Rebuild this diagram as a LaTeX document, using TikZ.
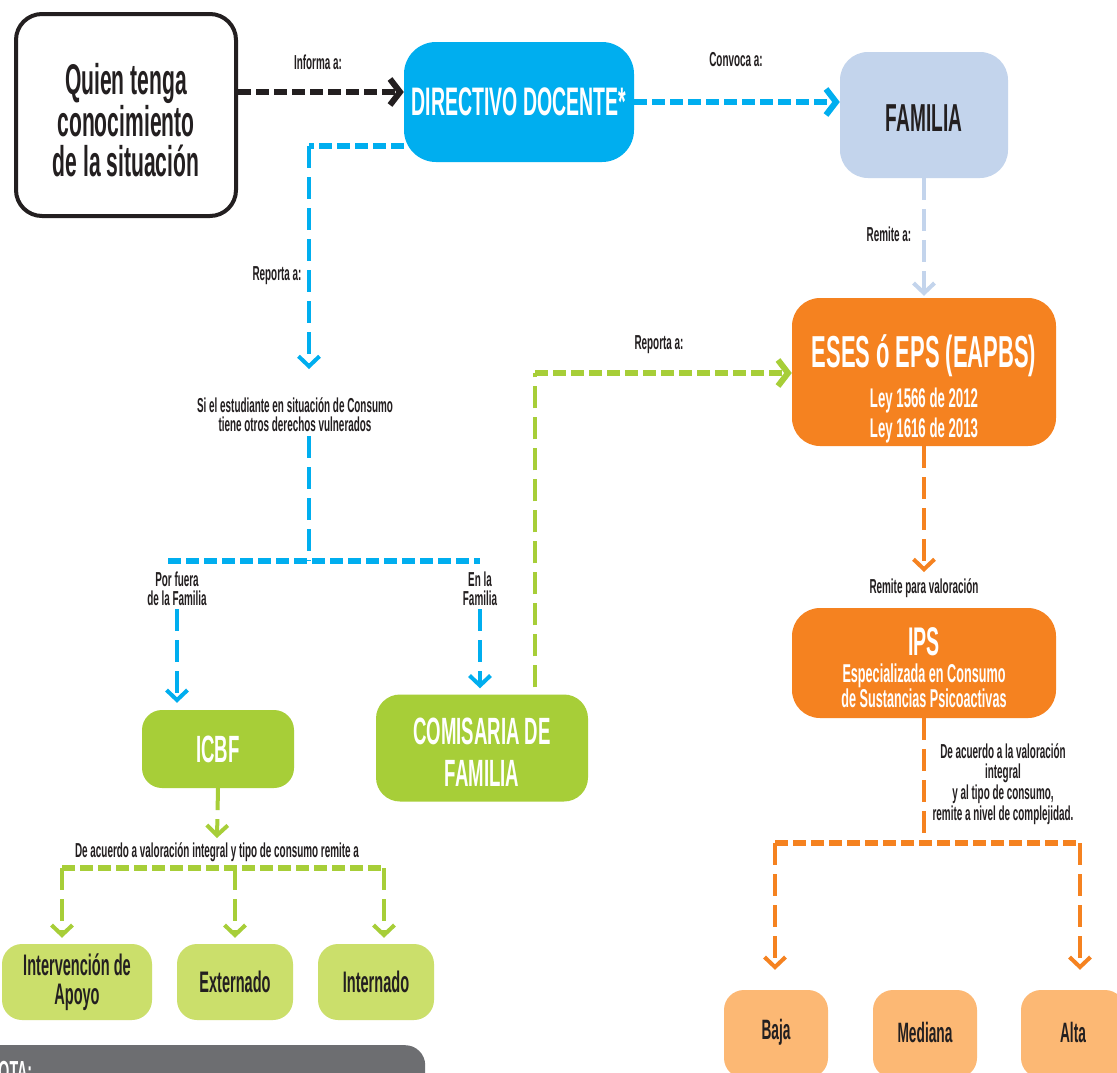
\documentclass[tikz,border=0pt]{standalone}
\usepackage{fontspec}
\setmainfont{Liberation Sans}[FakeStretch=0.49]
\usetikzlibrary{arrows.meta,calc}
\definecolor{cblue}{HTML}{00AEEF}
\definecolor{clblue}{HTML}{C3D4EC}
\definecolor{corange}{HTML}{F58220}
\definecolor{clorange}{HTML}{FCB874}
\definecolor{cgreen}{HTML}{A7CE38}
\definecolor{clgreen}{HTML}{CBDF6B}
\definecolor{cgray}{HTML}{6D6E71}
\definecolor{ctext}{HTML}{231F20}
\tikzset{
  fs/.style n args={2}{font=\fontsize{#1}{#2}\selectfont\bfseries},
  bx/.style={inner sep=0pt, align=center},
  lbl/.style={text=ctext, fs={20.2}{19}, align=center, inner sep=0pt},
  hd/.style={line width=6pt, dash pattern=on 13pt off 5pt},
  vd/.style={line width=4pt, dash pattern=on 22pt off 9pt},
  htip/.style={-{Straight Barb[length=10pt,width=26pt]}},
  vtip/.style={-{Straight Barb[length=10pt,width=21pt]}},
}
\begin{document}
\begin{tikzpicture}[x=1pt,y=-1pt]
\useasboundingbox (0,0) rectangle (1117,1072);
\clip (0,0) rectangle (1117,1072);
\fill[white] (0,0) rectangle (1117,1072);

% boxes
\node[bx, draw=ctext, line width=4pt, fill=white, rounded corners=26pt, minimum width=220pt, minimum height=202pt] (quien) at (126,115) {};
\node[bx, text=ctext, fs={43}{40}] (quienT) at (126,120) {Quien tenga\\conocimiento\\de la situación};
\node[bx, fill=cblue, rounded corners=32pt, minimum width=230pt, minimum height=120pt, text=white, fs={39.8}{40}] (directivo) at (519,102) {DIRECTIVO DOCENTE*};
\node[bx, fill=clblue, rounded corners=28pt, minimum width=168pt, minimum height=126pt] (familia) at (924,115) {};
\node[bx, text=ctext, fs={39}{39}] (familiaT) at (924,118) {FAMILIA};
\node[bx, fill=corange, rounded corners=28pt, minimum width=264pt, minimum height=148pt] (eses) at (924,372) {};
\node[bx, text=white, fs={44.8}{44}] (esesT) at (924,356) {ESES ó EPS (EAPBS)};
\node[bx, text=white, fs={27}{30}] (esesL) at (924,416) {Ley 1566 de 2012\\Ley 1616 de 2013};
\node[bx, fill=corange, rounded corners=28pt, minimum width=264pt, minimum height=110pt] (ips) at (924,663) {};
\node[bx, text=white, fs={40}{40}] (ipsT) at (924,642) {IPS};
\node[bx, text=white, fs={25.8}{21}] (ipsL) at (924,686) {Especializada en Consumo\\de Sustancias Psicoactivas};
\node[bx, fill=cgreen, rounded corners=20pt, minimum width=152pt, minimum height=78pt, text=white, fs={38}{38}] (icbf) at (218,749) {ICBF};
\node[bx, fill=cgreen, rounded corners=24pt, minimum width=212pt, minimum height=107pt] (comisaria) at (482,748) {};
\node[bx, text=white, fs={38}{42}] (comisariaT) at (482,752) {COMISARIA DE\\FAMILIA};
\node[bx, fill=clgreen, rounded corners=20pt, minimum width=150pt, minimum height=76pt, text=ctext, fs={29.7}{29}] (interv) at (77,982) {Intervención de\\Apoyo};
\node[bx, fill=clgreen, rounded corners=20pt, minimum width=116pt, minimum height=76pt, text=ctext, fs={29.7}{29}] (extern) at (235,982) {Externado};
\node[bx, fill=clgreen, rounded corners=20pt, minimum width=116pt, minimum height=76pt, text=ctext, fs={29.7}{29}] (intern) at (376,982) {Internado};
\node[bx, fill=clorange, rounded corners=20pt, minimum width=104pt, minimum height=88pt] (baja) at (776,1034) {};
\node[bx, fill=clorange, rounded corners=20pt, minimum width=104pt, minimum height=88pt] (mediana) at (925,1034) {};
\node[bx, fill=clorange, rounded corners=20pt, minimum width=104pt, minimum height=88pt] (alta) at (1073,1034) {};
\node[bx, text=ctext, fs={28}{28}] (bajaT) at (776,1032) {Baja};
\node[bx, text=ctext, fs={28}{28}] (medianaT) at (925,1032) {Mediana};
\node[bx, text=ctext, fs={28}{28}] (altaT) at (1073,1032) {Alta};
\node[bx, fill=cgray, rounded corners=20pt, minimum width=445pt, minimum height=60pt, anchor=north west] (nota) at (-20,1045) {};
\node[bx, text=white, fs={29}{29}, anchor=base west] (notaT) at (-12,1081) {NOTA:};

% labels
\node[lbl] (informa) at (318,62) {Informa a:};
\node[lbl] (convoca) at (736,60) {Convoca a:};
\node[lbl] (remitea) at (889,234) {Remite a:};
\node[lbl] (reporta1) at (277,276) {Reporta a:};
\node[lbl] (reporta2) at (659,345) {Reporta a:};
\node[lbl] (cond) at (295,415) {Si el estudiante en situación de Consumo\\tiene otros derechos vulnerados};
\node[lbl] (porfuera) at (177,589) {Por fuera\\de la Familia};
\node[lbl] (enla) at (480,589) {En la\\Familia};
\node[lbl] (remval) at (924,588) {Remite para valoración};
\node[lbl, fs={20.2}{20.7}] (acuerdo) at (1003,784) {De acuerdo a la valoración\\integral\\y al tipo de consumo,\\remite a nivel de complejidad.};
\node[lbl] (acuerdo2) at (217,852) {De acuerdo a valoración integral y tipo de consumo remite a};

% coordinates
\coordinate (c1) at (309,146);
\coordinate (tcond) at (309,369);
\coordinate (c2) at (309,561);
\coordinate (bl) at (168,561);
\coordinate (br) at (480,561);
\coordinate (g1) at (535,373);
\coordinate (tremval) at (924,572);
\coordinate (o1) at (924,843);
\coordinate (ol) at (775,843);
\coordinate (or) at (1080,843);
\coordinate (ticbf) at (217,838);
\coordinate (gl) at (62,868);
\coordinate (gm) at (235,868);
\coordinate (gr) at (384,868);

% connectors
\draw[hd, ctext, htip] ([yshift=23pt]quien.east) -- ([yshift=23pt]quien.east -| directivo.west);
\draw[hd, cblue, htip] (directivo.east) -- (directivo.east -| familia.west);
\draw[vd, clblue, vtip, shorten >=2pt] (familia.south) -- (eses.north);
\draw[hd, cblue] ([yshift=-44pt]directivo.west) -- (c1);
\draw[vd, cblue, vtip] (c1) -- (tcond);
\draw[vd, cblue] ([yshift=-4pt]cond.south -| c2) -- (c2);
\draw[hd, cblue] (bl) -- (br);
\draw[vd, cblue, vtip, shorten >=7pt] ([yshift=-3pt]porfuera.south) -- (porfuera.south |- icbf.north);
\draw[vd, cblue, vtip, shorten >=6pt] ([yshift=-3pt]enla.south) -- (enla.south |- comisaria.north);
\draw[vd, cgreen] ([xshift=53pt,yshift=7pt]comisaria.north) -- (g1);
\draw[hd, cgreen, htip] (g1) -- (g1 -| eses.west);
\draw[vd, corange, vtip] (eses.south) -- (tremval);
\draw[vd, corange] (ips.south) -- (o1);
\draw[hd, corange] (ol) -- (or);
\draw[vd, corange, vtip, shorten >=20pt] (ol) -- (ol |- baja.north);
\draw[vd, corange, vtip, shorten >=20pt] (or) -- (or |- alta.north);
\draw[vd, cgreen, vtip] (icbf.south) -- (ticbf);
\draw[hd, cgreen] (gl) -- (gr);
\draw[vd, cgreen, vtip, shorten >=6pt] (gl) -- (gl |- interv.north);
\draw[vd, cgreen, vtip, shorten >=6pt] (gm) -- (gm |- extern.north);
\draw[vd, cgreen, vtip, shorten >=6pt] (gr) -- (gr |- intern.north);
\end{tikzpicture}
\end{document}
